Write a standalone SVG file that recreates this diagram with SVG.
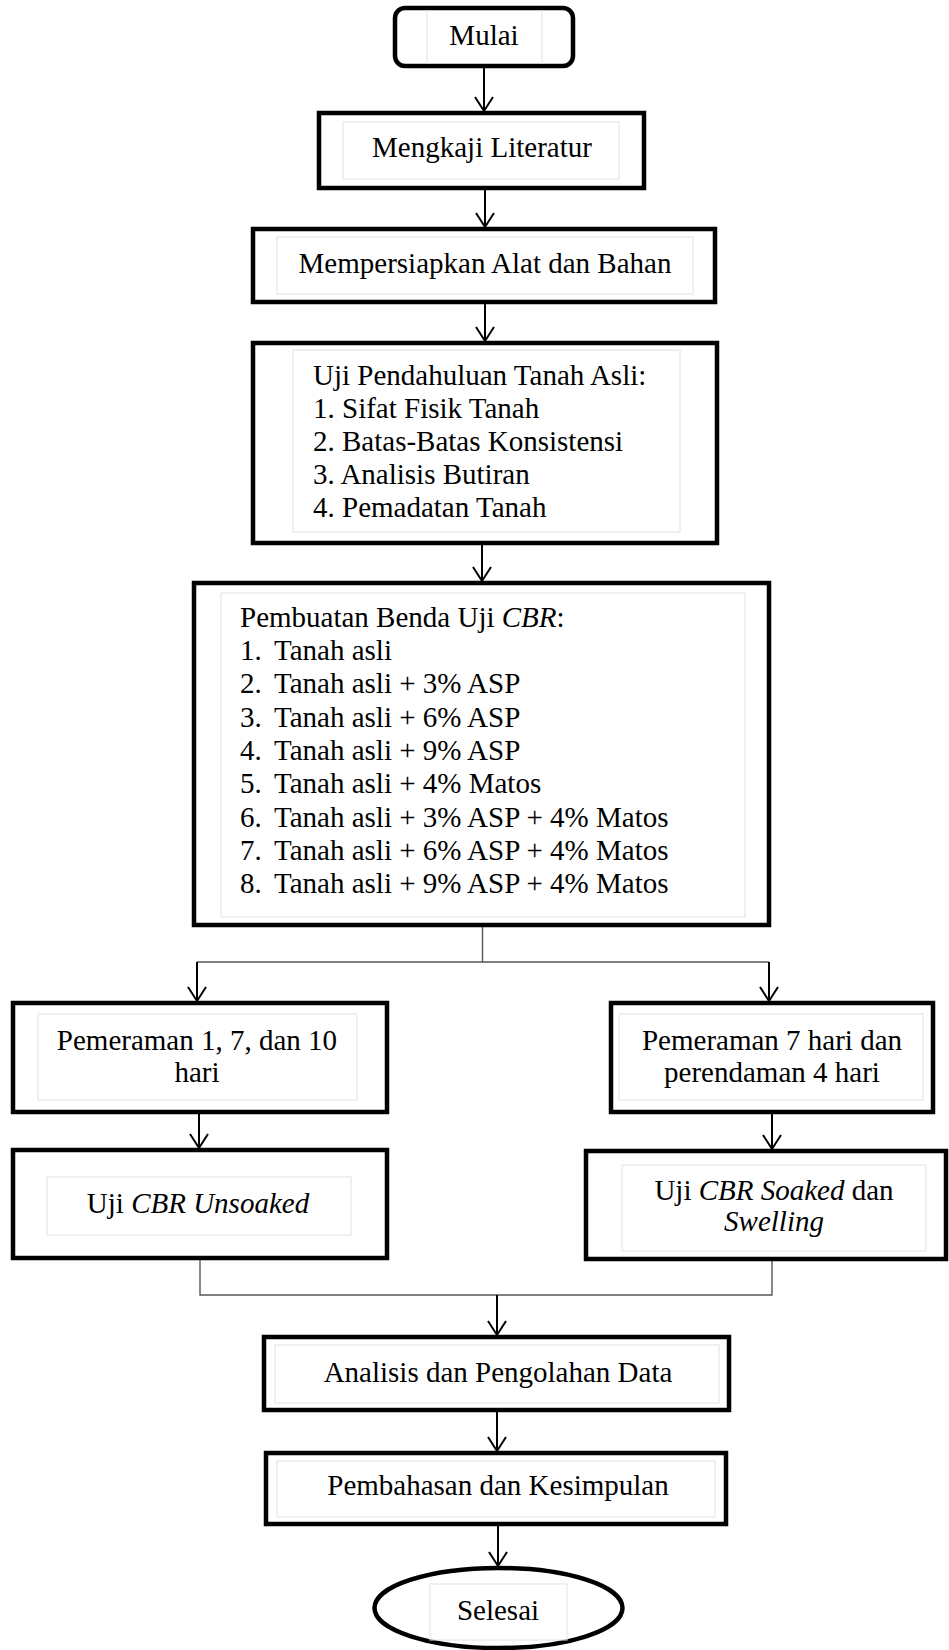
<svg xmlns="http://www.w3.org/2000/svg" width="949" height="1650" viewBox="0 0 949 1650">
<style>
.box{fill:#fff;stroke:#000;stroke-width:4.5}
.inner{fill:none;stroke:#e2e2e2;stroke-width:1}
.t{font-family:'Liberation Serif','Tinos','Times New Roman','DejaVu Serif',serif;font-size:29px;fill:#000}
.c{text-anchor:middle}
.i{font-style:italic}
.ln{fill:none;stroke:#000;stroke-width:2}
.gl{fill:none;stroke:#555;stroke-width:1.4}
</style>
<defs>
<marker id="arr" markerUnits="userSpaceOnUse" markerWidth="24" markerHeight="24" viewBox="-16 -12 24 24" refX="0" refY="0" orient="auto" overflow="visible">
<path d="M-14,-9 L0,0 L-14,9" fill="none" stroke="#000" stroke-width="2"/>
</marker>
</defs>
<rect width="949" height="1650" fill="#fff"/>
<g id="connectors">
<line class="ln" x1="484" y1="66" x2="484" y2="111" marker-end="url(#arr)"/>
<line class="ln" x1="485" y1="188" x2="485" y2="227" marker-end="url(#arr)"/>
<line class="ln" x1="485" y1="302" x2="485" y2="341" marker-end="url(#arr)"/>
<line class="ln" x1="482" y1="543" x2="482" y2="581" marker-end="url(#arr)"/>
<polyline class="gl" points="482.5,925 482.5,962"/>
<polyline class="gl" points="197,962 769,962"/>
<line class="ln" x1="197" y1="962" x2="197" y2="1001" marker-end="url(#arr)"/>
<line class="ln" x1="769" y1="962" x2="769" y2="1001" marker-end="url(#arr)"/>
<line class="ln" x1="199" y1="1112" x2="199" y2="1148" marker-end="url(#arr)"/>
<line class="ln" x1="772" y1="1112" x2="772" y2="1149" marker-end="url(#arr)"/>
<polyline class="gl" points="200,1258 200,1295 772,1295 772,1259"/>
<line class="ln" x1="497" y1="1295" x2="497" y2="1335" marker-end="url(#arr)"/>
<line class="ln" x1="497" y1="1410" x2="497" y2="1451" marker-end="url(#arr)"/>
<line class="ln" x1="498" y1="1524" x2="498" y2="1566" marker-end="url(#arr)"/>
</g>
<g id="mulai">
<rect class="box" x="395" y="8" width="178" height="58" rx="10"/>
<line class="inner" x1="427" y1="10" x2="427" y2="64"/>
<line class="inner" x1="542" y1="10" x2="542" y2="64"/>
<text class="t c" font-family="Liberation Serif, serif" x="484" y="45">Mulai</text>
</g>
<g id="mengkaji">
<rect class="box" x="319" y="113" width="325" height="75"/>
<rect class="inner" x="343" y="122" width="276" height="57"/>
<text class="t c" x="482" y="157">Mengkaji Literatur</text>
</g>
<g id="mempersiapkan">
<rect class="box" x="253" y="229" width="462" height="73"/>
<rect class="inner" x="277" y="237" width="416" height="57"/>
<text class="t c" x="485" y="273">Mempersiapkan Alat dan Bahan</text>
</g>
<g id="uji-pendahuluan">
<rect class="box" x="253" y="343" width="464" height="200"/>
<rect class="inner" x="293" y="350" width="387" height="182"/>
<text class="t" x="313" y="385">Uji Pendahuluan Tanah Asli:</text>
<text class="t" x="313" y="418">1. Sifat Fisik Tanah</text>
<text class="t" x="313" y="451">2. Batas-Batas Konsistensi</text>
<text class="t" x="313" y="484">3. Analisis Butiran</text>
<text class="t" x="313" y="517">4. Pemadatan Tanah</text>
</g>
<g id="pembuatan">
<rect class="box" x="194" y="583" width="575" height="342"/>
<rect class="inner" x="221" y="593" width="524" height="324"/>
<text class="t" x="240" y="627">Pembuatan Benda Uji <tspan class="i">CBR</tspan>:</text>
<text class="t" y="660"><tspan x="240">1.</tspan><tspan x="274">Tanah asli</tspan></text>
<text class="t" y="693"><tspan x="240">2.</tspan><tspan x="274">Tanah asli + 3% ASP</tspan></text>
<text class="t" y="727"><tspan x="240">3.</tspan><tspan x="274">Tanah asli + 6% ASP</tspan></text>
<text class="t" y="760"><tspan x="240">4.</tspan><tspan x="274">Tanah asli + 9% ASP</tspan></text>
<text class="t" y="793"><tspan x="240">5.</tspan><tspan x="274">Tanah asli + 4% Matos</tspan></text>
<text class="t" y="827"><tspan x="240">6.</tspan><tspan x="274">Tanah asli + 3% ASP + 4% Matos</tspan></text>
<text class="t" y="860"><tspan x="240">7.</tspan><tspan x="274">Tanah asli + 6% ASP + 4% Matos</tspan></text>
<text class="t" y="893"><tspan x="240">8.</tspan><tspan x="274">Tanah asli + 9% ASP + 4% Matos</tspan></text>
</g>
<g id="pemeraman-kiri">
<rect class="box" x="13" y="1003" width="374" height="109"/>
<rect class="inner" x="38" y="1014" width="319" height="86"/>
<text class="t c" x="197" y="1050">Pemeraman 1, 7, dan 10</text>
<text class="t c" x="197" y="1082">hari</text>
</g>
<g id="pemeraman-kanan">
<rect class="box" x="611" y="1003" width="322" height="109"/>
<rect class="inner" x="619" y="1014" width="304" height="86"/>
<text class="t c" x="772" y="1050">Pemeraman 7 hari dan</text>
<text class="t c" x="772" y="1082">perendaman 4 hari</text>
</g>
<g id="unsoaked">
<rect class="box" x="13" y="1150" width="374" height="108"/>
<rect class="inner" x="47" y="1177" width="304" height="58"/>
<text class="t c" x="198" y="1213">Uji <tspan class="i">CBR Unsoaked</tspan></text>
</g>
<g id="soaked">
<rect class="box" x="586" y="1151" width="360" height="108"/>
<rect class="inner" x="622" y="1165" width="304" height="86"/>
<text class="t c" x="774" y="1200">Uji <tspan class="i">CBR Soaked</tspan> dan</text>
<text class="t c i" x="774" y="1231">Swelling</text>
</g>
<g id="analisis">
<rect class="box" x="264" y="1337" width="465" height="73"/>
<rect class="inner" x="275" y="1345" width="444" height="58"/>
<text class="t c" x="498" y="1382">Analisis dan Pengolahan Data</text>
</g>
<g id="pembahasan">
<rect class="box" x="266" y="1453" width="460" height="71"/>
<rect class="inner" x="277" y="1461" width="438" height="56"/>
<text class="t c" x="498" y="1495">Pembahasan dan Kesimpulan</text>
</g>
<g id="selesai">
<ellipse class="box" cx="498.5" cy="1608" rx="124" ry="40"/>
<rect class="inner" x="430" y="1584" width="137" height="56"/>
<text class="t c" x="498" y="1620">Selesai</text>
</g>
</svg>
